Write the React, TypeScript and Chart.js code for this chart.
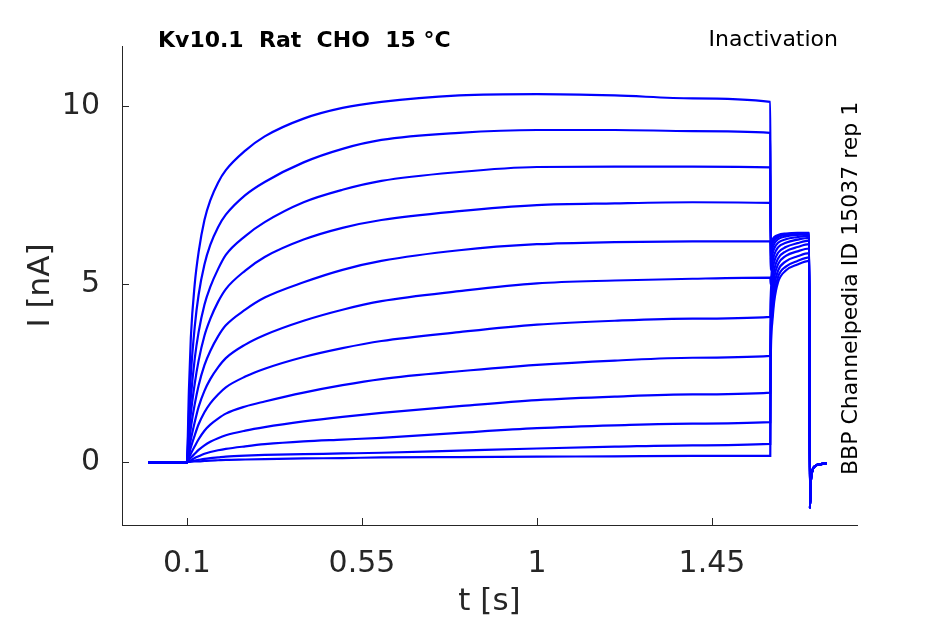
import { useEffect, useRef } from "react";
import { Chart, ChartConfiguration, Plugin, registerables } from "chart.js";

// register every chart.js piece we need
Chart.register(...registerables);

// sample times (s) for the holding level, the test pulse, the tail and the return
const baselineTimes = [0, 0.099];
const baselineValue = -0.02;
const pulseTimes = [0.1, 0.105, 0.11, 0.12, 0.13, 0.145, 0.16, 0.18, 0.2, 0.25, 0.3, 0.4, 0.5, 0.6, 0.8, 1.0, 1.2, 1.4, 1.6];
const tailTimes = [1.601, 1.605, 1.61, 1.62, 1.64, 1.67, 1.7];
const returnTimes = [1.702, 1.704, 1.708, 1.715, 1.73, 1.745];
const returnValues = [-1.29, -0.6, -0.25, -0.12, -0.06, -0.03];

// current (nA) of each sweep during the test pulse
const pulseCurrents = [
  [0, 2.0, 3.5, 5.0, 5.9, 6.8, 7.35, 7.85, 8.2, 8.75, 9.15, 9.65, 9.95, 10.12, 10.3, 10.34, 10.3, 10.22, 10.12],
  [0, 1.35, 2.45, 3.8, 4.7, 5.55, 6.1, 6.6, 6.95, 7.5, 7.87, 8.42, 8.8, 9.05, 9.25, 9.33, 9.33, 9.3, 9.25],
  [0, 0.95, 1.8, 2.9, 3.65, 4.42, 4.92, 5.42, 5.82, 6.35, 6.74, 7.3, 7.65, 7.9, 8.15, 8.29, 8.3, 8.3, 8.28],
  [0, 0.68, 1.35, 2.2, 2.85, 3.55, 4.02, 4.5, 4.86, 5.38, 5.76, 6.25, 6.58, 6.8, 7.05, 7.22, 7.27, 7.3, 7.28],
  [0, 0.45, 0.95, 1.62, 2.15, 2.72, 3.12, 3.53, 3.84, 4.28, 4.62, 5.05, 5.4, 5.65, 5.95, 6.12, 6.18, 6.2, 6.2],
  [0, 0.32, 0.63, 1.12, 1.55, 2.0, 2.33, 2.66, 2.92, 3.3, 3.57, 3.97, 4.28, 4.52, 4.8, 5.02, 5.1, 5.15, 5.18],
  [0, 0.2, 0.41, 0.75, 1.06, 1.4, 1.65, 1.9, 2.1, 2.4, 2.62, 2.95, 3.2, 3.4, 3.65, 3.86, 3.97, 4.03, 4.08],
  [0, 0.12, 0.23, 0.44, 0.64, 0.88, 1.05, 1.22, 1.36, 1.56, 1.7, 1.95, 2.16, 2.33, 2.55, 2.73, 2.85, 2.93, 2.98],
  [0, 0.07, 0.12, 0.23, 0.34, 0.47, 0.57, 0.67, 0.75, 0.88, 0.98, 1.14, 1.27, 1.38, 1.57, 1.74, 1.84, 1.9, 1.95],
  [0, 0.03, 0.05, 0.11, 0.16, 0.23, 0.28, 0.33, 0.37, 0.44, 0.5, 0.58, 0.63, 0.68, 0.82, 0.95, 1.03, 1.08, 1.12],
  [0, 0.01, 0.02, 0.04, 0.06, 0.09, 0.11, 0.13, 0.15, 0.18, 0.2, 0.22, 0.24, 0.26, 0.32, 0.38, 0.43, 0.47, 0.51],
  [0, 0, 0.01, 0.02, 0.02, 0.03, 0.04, 0.05, 0.06, 0.07, 0.08, 0.1, 0.11, 0.13, 0.14, 0.15, 0.16, 0.17, 0.17],
];

// tail current (nA) of each sweep after the pulse
const tailCurrents = [
  [6.2, 6.25, 6.32, 6.38, 6.42, 6.44, 6.44],
  [6.1, 6.2, 6.28, 6.35, 6.4, 6.42, 6.43],
  [5.95, 6.12, 6.23, 6.32, 6.38, 6.41, 6.42],
  [5.7, 5.98, 6.13, 6.26, 6.34, 6.38, 6.4],
  [5.4, 5.8, 6.0, 6.16, 6.26, 6.32, 6.36],
  [5.0, 5.55, 5.82, 6.03, 6.16, 6.25, 6.3],
  [4.6, 5.3, 5.62, 5.88, 6.04, 6.15, 6.22],
  [4.2, 5.0, 5.4, 5.72, 5.92, 6.04, 6.12],
  [3.8, 4.7, 5.18, 5.56, 5.79, 5.92, 6.0],
  [3.4, 4.4, 4.94, 5.38, 5.64, 5.78, 5.87],
  [3.0, 4.1, 4.7, 5.2, 5.49, 5.65, 5.75],
  [2.7, 3.9, 4.5, 5.05, 5.38, 5.55, 5.65],
];

// axis ticks
const xTickValues = [0.1, 0.55, 1, 1.45];
const xTickLabels = ["0.1", "0.55", "1", "1.45"];
const yTickValues = [0, 5, 10];
const yTickLabels = ["0", "5", "10"];

const FONT = "'DejaVu Sans', sans-serif";
const AXIS_COLOR = "#262626";

// builds one sweep from the arrays above
function sweep(i: number) {
  return [
    ...baselineTimes.map((t) => ({ x: t, y: baselineValue })),
    ...pulseTimes.map((t, j) => ({ x: t, y: pulseCurrents[i][j] })),
    ...tailTimes.map((t, j) => ({ x: t, y: tailCurrents[i][j] })),
    ...returnTimes.map((t, j) => ({ x: t, y: returnValues[j] })),
  ];
}

// inward tick marks (matlab style) and the free text around the axes
const decorations: Plugin = {
  id: "decorations",
  afterDraw(chart) {
    const { ctx, chartArea } = chart;
    const xs = chart.scales.x;
    const ys = chart.scales.y;
    ctx.save();
    ctx.strokeStyle = AXIS_COLOR;
    ctx.lineWidth = 1;
    ctx.beginPath();
    xTickValues.forEach((v) => {
      const px = Math.round(xs.getPixelForValue(v)) + 0.5;
      ctx.moveTo(px, chartArea.bottom);
      ctx.lineTo(px, chartArea.bottom - 7);
    });
    yTickValues.forEach((v) => {
      const py = Math.round(ys.getPixelForValue(v)) + 0.5;
      ctx.moveTo(chartArea.left, py);
      ctx.lineTo(chartArea.left + 7, py);
    });
    ctx.stroke();

    ctx.fillStyle = "#000";
    ctx.textBaseline = "alphabetic";
    ctx.font = `bold 22px ${FONT}`;
    ctx.textAlign = "left";
    ctx.fillText("Kv10.1  Rat  CHO  15 °C", 158, 47);

    ctx.font = `22px ${FONT}`;
    ctx.textAlign = "right";
    ctx.fillText("Inactivation", 838, 46);

    ctx.translate(857, 475);
    ctx.rotate(-Math.PI / 2);
    ctx.font = `22px ${FONT}`;
    ctx.textAlign = "left";
    ctx.fillText("BBP Channelpedia ID 15037 rep 1", 0, 0);
    ctx.restore();
  },
};

export default function App() {
  const canvasRef = useRef<HTMLCanvasElement | null>(null);

  useEffect(() => {
    const canvas = canvasRef.current;
    if (!canvas) return;

    const config: ChartConfiguration<"line"> = {
      type: "line",
      data: {
        datasets: pulseCurrents.map((_, i) => ({
          data: sweep(i),
          borderColor: "#0000ff",
          borderWidth: 2.2,
          pointRadius: 0,
          fill: false,
          cubicInterpolationMode: "monotone" as const,
        })),
      },
      options: {
        animation: false,
        responsive: true,
        maintainAspectRatio: false,
        parsing: false,
        layout: { padding: { left: 0, top: 46, right: 88, bottom: 0 } },
        plugins: { legend: { display: false }, tooltip: { enabled: false } },
        scales: {
          x: {
            type: "linear",
            min: -0.067,
            max: 1.823,
            grid: { display: false, drawTicks: false },
            border: { display: true, color: AXIS_COLOR, width: 1 },
            afterBuildTicks: (scale) => {
              scale.ticks = xTickValues.map((v) => ({ value: v }));
            },
            afterFit: (scale) => {
              scale.height = 99;
            },
            ticks: {
              color: AXIS_COLOR,
              padding: 21,
              maxRotation: 0,
              font: { family: FONT, size: 30 },
              callback: (_v, i) => xTickLabels[i],
            },
            title: {
              display: true,
              text: "t [s]",
              color: AXIS_COLOR,
              font: { family: FONT, size: 31 },
              padding: { top: 0, bottom: 3 },
            },
          },
          y: {
            type: "linear",
            min: -1.77,
            max: 11.69,
            grid: { display: false, drawTicks: false },
            border: { display: true, color: AXIS_COLOR, width: 1 },
            afterBuildTicks: (scale) => {
              scale.ticks = yTickValues.map((v) => ({ value: v }));
            },
            afterFit: (scale) => {
              scale.width = 122;
            },
            ticks: {
              color: AXIS_COLOR,
              padding: 22,
              font: { family: FONT, size: 30 },
              callback: (_v, i) => yTickLabels[i],
            },
            title: {
              display: true,
              text: "I [nA]",
              color: AXIS_COLOR,
              font: { family: FONT, size: 31 },
              padding: { top: 22, bottom: 0 },
            },
          },
        },
      },
      plugins: [decorations],
    };

    const chart = new Chart(canvas, config);
    return () => chart.destroy();
  }, []);

  return (
    <div style={{ position: "fixed", left: 0, top: 0, width: 945, height: 624, background: "#fff" }}>
      <canvas ref={canvasRef} />
    </div>
  );
}
